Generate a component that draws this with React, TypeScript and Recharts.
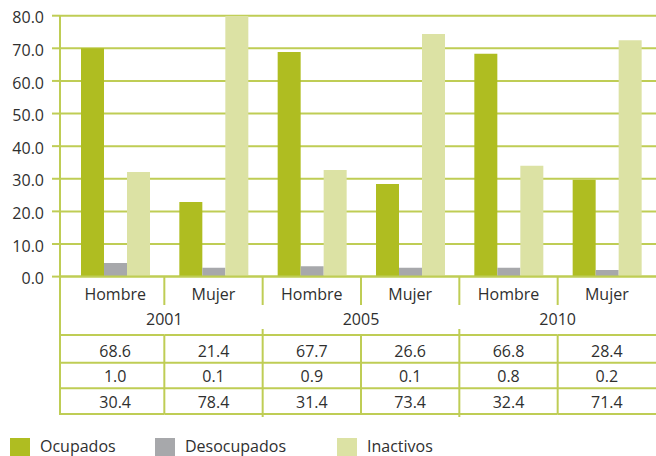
import React from 'react';
import { BarChart, Bar, XAxis, YAxis, CartesianGrid } from 'recharts';

const categories = ['Hombre', 'Mujer', 'Hombre', 'Mujer', 'Hombre', 'Mujer'];
const years = ['2001', '2005', '2010'];
const ocupados = [70.0, 22.9, 68.9, 28.4, 68.3, 29.7];
const desocupados = [4.2, 2.7, 3.2, 2.7, 2.7, 2.0];
const inactivos = [32.1, 80.0, 32.7, 74.4, 34.0, 72.5];
const tableOcupados = ['68.6', '21.4', '67.7', '26.6', '66.8', '28.4'];
const tableDesocupados = ['1.0', '0.1', '0.9', '0.1', '0.8', '0.2'];
const tableInactivos = ['30.4', '78.4', '31.4', '73.4', '32.4', '71.4'];
const yTicks = [0, 10, 20, 30, 40, 50, 60, 70, 80];

const seriesNames = ['Ocupados', 'Desocupados', 'Inactivos'];
const seriesColors = ['#afbd21', '#a7a8ab', '#dce2a4'];
const tableRows = [tableOcupados, tableDesocupados, tableInactivos];

const data = categories.map((c, i) => ({
  key: `${c}-${i}`,
  label: c,
  Ocupados: ocupados[i],
  Desocupados: desocupados[i],
  Inactivos: inactivos[i],
}));

const W = 656;
const H = 456;
const LEFT = 60;
const PAD_LEFT = 6;
const TOP = 15.7;
const PLOT_BOTTOM = 276.6;
const XAXIS_H = 140;
const BAND = (W - LEFT - PAD_LEFT) / categories.length;
const GRID = '#bfcd55';
const TEXT = '#2f2f2f';
const FONT = '"Open Sans", sans-serif';

const rowBaselines = [357.3, 382.3, 408.3];
const rowLines = [335, 362.7, 388.3, 414];

const TableTick = (props: any) => {
  const { x, index } = props;
  const i = index as number;
  const left = i === 0 ? LEFT : x - BAND / 2;
  const right = x + BAND / 2;
  const els: any[] = [];
  rowLines.forEach((ly, k) => {
    els.push(<line key={`h${k}`} x1={left} x2={right} y1={ly} y2={ly} stroke={GRID} strokeWidth={2} />);
  });
  if (i === 0) {
    els.push(<line key="lb" x1={left} x2={left} y1={PLOT_BOTTOM} y2={415} stroke={GRID} strokeWidth={2} />);
  }
  if (i < categories.length - 1) {
    if (i % 2 === 0) {
      els.push(<line key="v1" x1={right} x2={right} y1={PLOT_BOTTOM} y2={305} stroke={GRID} strokeWidth={2} />);
      els.push(<line key="v2" x1={right} x2={right} y1={335} y2={414} stroke={GRID} strokeWidth={2} />);
    } else {
      els.push(<line key="v1" x1={right} x2={right} y1={PLOT_BOTTOM} y2={305} stroke={GRID} strokeWidth={2} />);
      els.push(<line key="v2" x1={right} x2={right} y1={329} y2={417} stroke={GRID} strokeWidth={2} />);
    }
  }
  els.push(
    <text key="cat" x={x} y={300} textAnchor="middle" fontFamily={FONT} fontSize={16} fill={TEXT}>
      {categories[i]}
    </text>
  );
  if (i % 2 === 0) {
    els.push(
      <text key="yr" x={right} y={325} textAnchor="middle" fontFamily={FONT} fontSize={16} fill={TEXT}>
        {years[i / 2]}
      </text>
    );
  }
  tableRows.forEach((row, r) => {
    els.push(
      <text key={`r${r}`} x={x} y={rowBaselines[r]} textAnchor="middle" fontFamily={FONT} fontSize={16} fill={TEXT}>
        {row[i]}
      </text>
    );
  });
  return <g>{els}</g>;
};

export default function App() {
  return (
    <div style={{ position: 'absolute', left: 0, top: 0, width: W, height: H, background: '#fff', fontFamily: FONT, overflow: 'hidden' }}>
      <BarChart
        width={W}
        height={H}
        data={data}
        margin={{ top: TOP, right: 0, left: 0, bottom: H - PLOT_BOTTOM - XAXIS_H }}
        barGap={0}
        barSize={23}
      >
        <CartesianGrid vertical={false} stroke={GRID} strokeWidth={2} />
        <XAxis
          dataKey="key"
          height={XAXIS_H}
          padding={{ left: PAD_LEFT, right: 0 }}
          tickLine={false}
          axisLine={{ stroke: GRID, strokeWidth: 2 }}
          tick={(p: any) => <TableTick {...p} />}
          interval={0}
        />
        <YAxis
          width={LEFT}
          domain={[0, 80]}
          ticks={yTicks}
          allowDataOverflow
          tickFormatter={(v: number) => v.toFixed(1)}
          tickSize={8}
          tickMargin={8}
          tickLine={{ stroke: GRID, strokeWidth: 2 }}
          axisLine={{ stroke: GRID, strokeWidth: 2 }}
          tick={{ fontFamily: FONT, fontSize: 16, fill: TEXT, dy: 2 }}
        />
        {seriesNames.map((s, k) => (
          <Bar key={s} dataKey={s} fill={seriesColors[k]} isAnimationActive={false} />
        ))}
      </BarChart>
      <div style={{ position: 'absolute', left: 0, top: 438, width: W, height: 18 }}>
        {seriesNames.map((s, k) => {
          const sq = [10, 155, 337][k];
          return (
            <React.Fragment key={s}>
              <div style={{ position: 'absolute', left: sq, top: 0, width: 20, height: 18, background: seriesColors[k] }} />
              <div
                style={{
                  position: 'absolute',
                  left: sq + 30,
                  top: -1,
                  fontFamily: FONT,
                  fontSize: 16,
                  lineHeight: '18px',
                  color: TEXT,
                  whiteSpace: 'nowrap',
                }}
              >
                {s}
              </div>
            </React.Fragment>
          );
        })}
      </div>
    </div>
  );
}
